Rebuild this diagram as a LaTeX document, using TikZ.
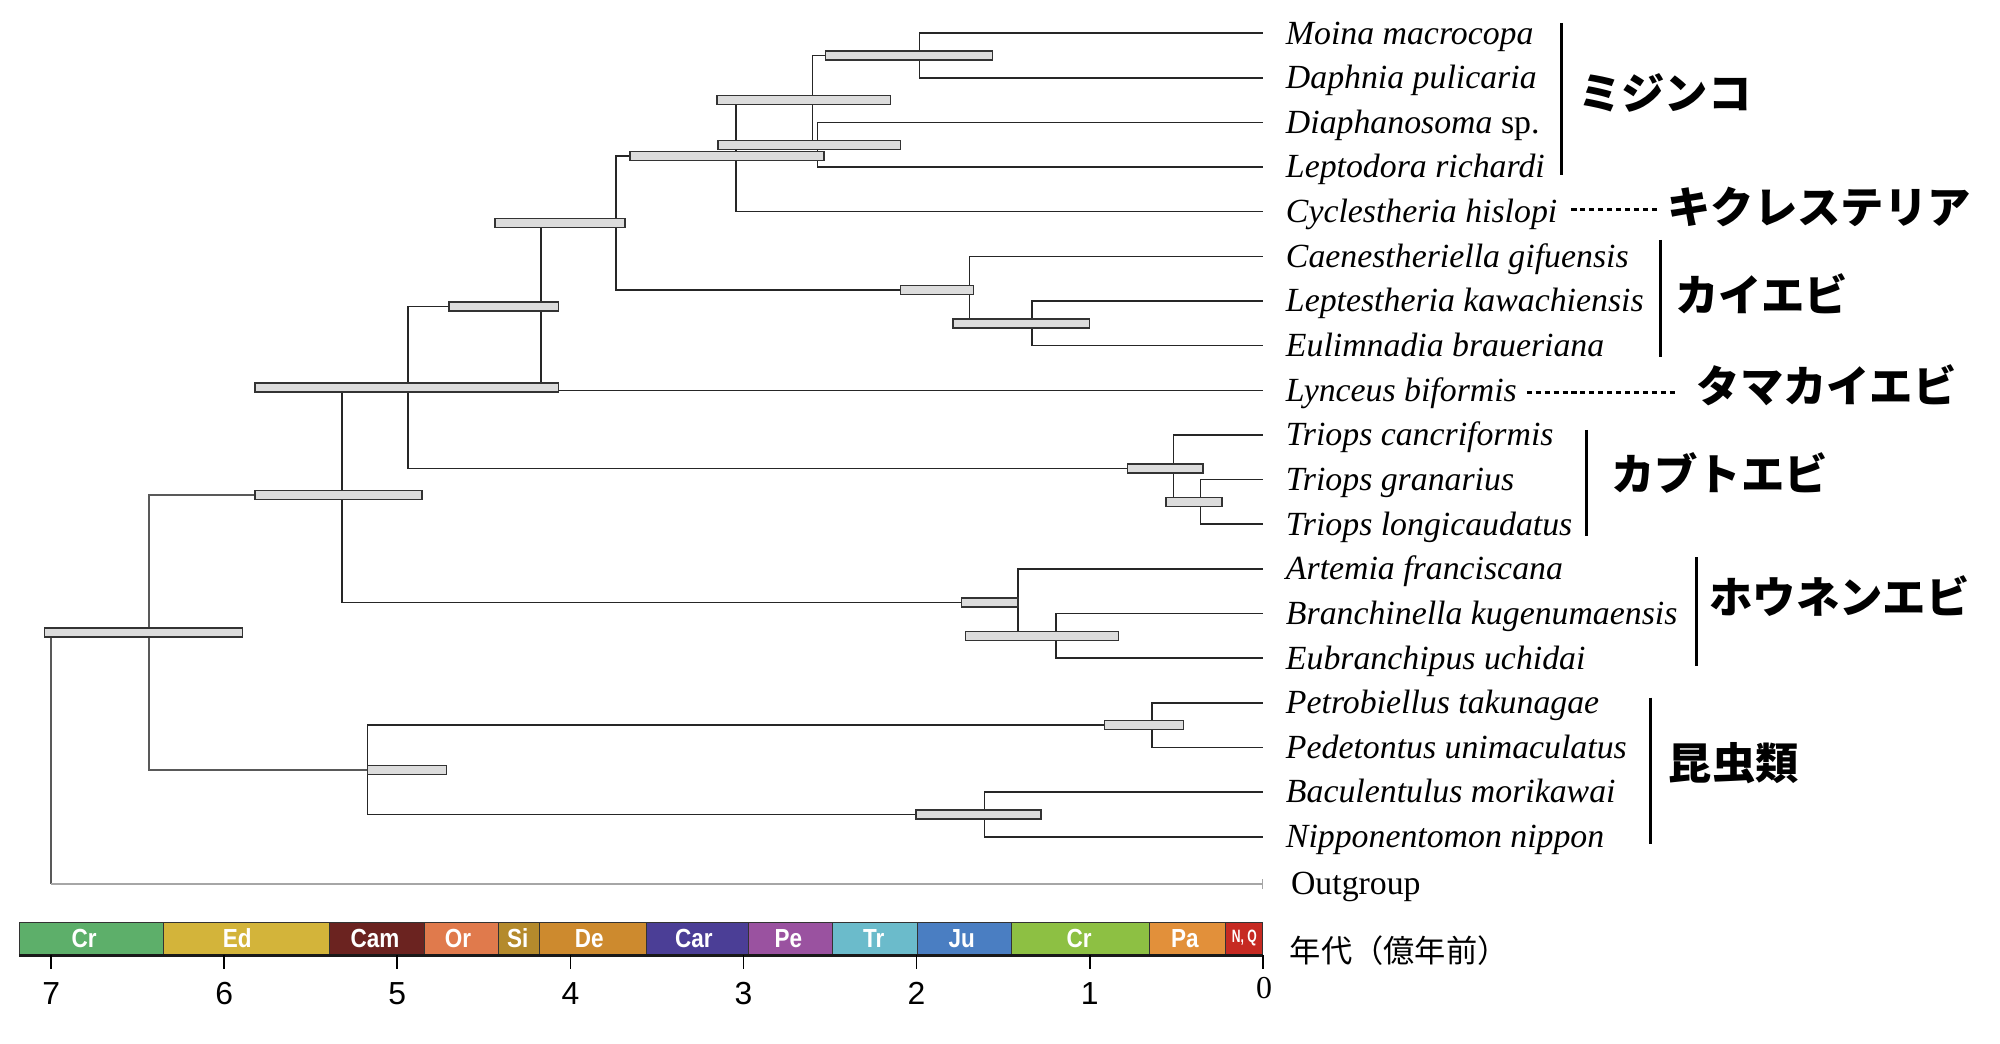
\documentclass[tikz,border=0pt]{standalone}
\usepackage{fontspec}
\setmainfont{Liberation Serif}
\newfontfamily\sansf{Liberation Sans}
\newfontfamily\jp{Noto Sans CJK JP}
\definecolor{cCry}{HTML}{5DAF6A}
\definecolor{cEd}{HTML}{D3B43A}
\definecolor{cCam}{HTML}{6B2320}
\definecolor{cOr}{HTML}{E07A4C}
\definecolor{cSi}{HTML}{B48A2C}
\definecolor{cDe}{HTML}{CD8A2E}
\definecolor{cCar}{HTML}{4B3E96}
\definecolor{cPe}{HTML}{9A52A0}
\definecolor{cTr}{HTML}{6BBBCB}
\definecolor{cJu}{HTML}{4A7EC2}
\definecolor{cCre}{HTML}{8DC043}
\definecolor{cPa}{HTML}{E2903A}
\definecolor{cNQ}{HTML}{C62A22}
\definecolor{hpdfill}{HTML}{DCDCDC}
\newcommand\hpdbar[3]{\draw[hpd] (#2,#1-3.5) rectangle (#3,#1+3.5);}
\begin{document}
\begin{tikzpicture}[x=1pt,y=-1pt,
  branch/.style={draw=black!85,line width=1.2pt},
  rootline/.style={draw=black!65,line width=1.2pt},
  outline/.style={draw=black!35,line width=1.1pt},
  hpd/.style={draw=black!80,fill=hpdfill,line width=1.1pt},
  sp/.style={anchor=base west,inner sep=0pt,font=\fontsize{26.5}{30}\selectfont\itshape},
  grp/.style={anchor=west,inner sep=0pt,font=\jp\bfseries\fontsize{34}{36}\selectfont},
  grpline/.style={draw=black,line width=2.6pt},
  dotline/.style={draw=black,line width=2.4pt,dash pattern=on 4pt off 3pt},
  period/.style={draw=black!80,line width=0.8pt},
  plab/.style={text=white,inner sep=0pt,font=\sansf\bfseries\fontsize{20.5}{20.5}\selectfont},
  tick/.style={draw=black,line width=1.4pt},
  ticklab/.style={inner sep=0pt,font=\sansf\fontsize{25}{25}\selectfont}]
\useasboundingbox (0,0) rectangle (1568,818);
\fill[white] (0,0) rectangle (1568,818);

% tips
\coordinate (t1) at (990,26);
\coordinate (t2) at (990,61);
\coordinate (t3) at (990,96);
\coordinate (t4) at (990,131);
\coordinate (t5) at (990,166);
\coordinate (t6) at (990,201);
\coordinate (t7) at (990,236);
\coordinate (t8) at (990,271);
\coordinate (t9) at (990,306);
\coordinate (t10) at (990,341);
\coordinate (t11) at (990,376);
\coordinate (t12) at (990,411);
\coordinate (t13) at (990,446);
\coordinate (t14) at (990,481);
\coordinate (t15) at (990,516);
\coordinate (t16) at (990,551);
\coordinate (t17) at (990,586);
\coordinate (t18) at (990,621);
\coordinate (t19) at (990,656);
\coordinate (out) at (990,693);

% internal nodes
\coordinate (n1) at (721,43.5);
\coordinate (n2) at (641,113.5);
\coordinate (n3) at (637,78.5);
\coordinate (n4) at (577,122.25);
\coordinate (n5) at (809,253.5);
\coordinate (n6) at (760,227.25);
\coordinate (n7) at (483,174.75);
\coordinate (n8) at (424,240.4);
\coordinate (n9) at (941,393.5);
\coordinate (n10) at (920,367.25);
\coordinate (n11) at (320,303.8);
\coordinate (n12) at (828,498.5);
\coordinate (n13) at (798,472.25);
\coordinate (n14) at (268,388);
\coordinate (n15) at (903,568.5);
\coordinate (n16) at (772,638.5);
\coordinate (n17) at (288,603.5);
\coordinate (n18) at (117,495.75);
\coordinate (root) at (40,693);

% branches
\draw[branch] (t1) -| (n1) |- (t2);
\draw[branch] (t3) -| (n2) |- (t4);
\draw[branch] (n1) -| (n3) |- (n2);
\draw[branch] (n3) -| (n4) |- (t5);
\draw[branch] (t7) -| (n5) |- (t8);
\draw[branch] (t6) -| (n6) |- (n5);
\draw[branch] (n4) -| (n7) |- (n6);
\draw[branch] (n7) -| (n8) |- (t9);
\draw[branch] (t11) -| (n9) |- (t12);
\draw[branch] (t10) -| (n10) |- (n9);
\draw[branch] (n8) -| (n11) |- (n10);
\draw[branch] (t14) -| (n12) |- (t15);
\draw[branch] (t13) -| (n13) |- (n12);
\draw[branch] (n11) -| (n14) |- (n13);
\draw[branch] (t16) -| (n15) |- (t17);
\draw[branch] (t18) -| (n16) |- (t19);
\draw[branch] (n15) -| (n17) |- (n16);
\draw[rootline] (n14) -| (n18) |- (n17);
\draw[rootline] (n18) -| (root);
\draw[outline] (root) -- (out);
\draw[outline] ([yshift=-4pt]out) -- ([yshift=4pt]out);

% HPD bars
\hpdbar{43.5}{647}{778}
\hpdbar{113.5}{563}{706}
\hpdbar{78.5}{562}{698}
\hpdbar{122.25}{494}{646}
\hpdbar{253.5}{747}{854}
\hpdbar{227.25}{706}{763}
\hpdbar{174.75}{388}{490}
\hpdbar{240.4}{352}{438}
\hpdbar{393.5}{914}{958}
\hpdbar{367.25}{884}{943}
\hpdbar{303.8}{200}{438}
\hpdbar{498.5}{757}{877}
\hpdbar{472.25}{754}{798}
\hpdbar{388}{200}{331}
\hpdbar{568.5}{866}{928}
\hpdbar{638.5}{718}{816}
\hpdbar{603.5}{288}{350}
\hpdbar{495.75}{35}{190}

% species labels
\node[sp] (L1) at (1008,34.5) {Moina macrocopa};
\node[sp] (L2) at (1008,69.5) {Daphnia pulicaria};
\node[sp] (L3) at (1008,104.5) {Diaphanosoma \upshape sp.};
\node[sp] (L4) at (1008,139.5) {Leptodora richardi};
\node[sp] (L5) at (1008,174.5) {Cyclestheria hislopi};
\node[sp] (L6) at (1008,209.5) {Caenestheriella gifuensis};
\node[sp] (L7) at (1008,244.5) {Leptestheria kawachiensis};
\node[sp] (L8) at (1008,279.5) {Eulimnadia braueriana};
\node[sp] (L9) at (1008,314.5) {Lynceus biformis};
\node[sp] (L10) at (1008,349.5) {Triops cancriformis};
\node[sp] (L11) at (1008,384.5) {Triops granarius};
\node[sp] (L12) at (1008,419.5) {Triops longicaudatus};
\node[sp] (L13) at (1008,454.5) {Artemia franciscana};
\node[sp] (L14) at (1008,489.5) {Branchinella kugenumaensis};
\node[sp] (L15) at (1008,524.5) {Eubranchipus uchidai};
\node[sp] (L16) at (1008,559.5) {Petrobiellus takunagae};
\node[sp] (L17) at (1008,594.5) {Pedetontus unimaculatus};
\node[sp] (L18) at (1008,629.5) {Baculentulus morikawai};
\node[sp] (L19) at (1008,664.5) {Nipponentomon nippon};
\node[sp,font=\fontsize{26.5}{30}\selectfont\upshape] (Lout) at (1012,701.5) {Outgroup};

% group brackets and labels
\coordinate (g1a) at (1224,18);  \coordinate (g1b) at (1224,137);
\draw[grpline] (g1a) -- (g1b);
\node[grp] (G1) at (1237,73) {ミジンコ};
\coordinate (d1a) at (1232,164); \coordinate (d1b) at (1300,164);
\draw[dotline] (d1a) -- (d1b);
\node[grp] (G2) at (1307,162) {キクレステリア};
\coordinate (g3a) at (1302,188); \coordinate (g3b) at (1302,280);
\draw[grpline] (g3a) -- (g3b);
\node[grp] (G3) at (1313,230) {カイエビ};
\coordinate (d4a) at (1197,308); \coordinate (d4b) at (1315,308);
\draw[dotline] (d4a) -- (d4b);
\node[grp] (G4) at (1330,302) {タマカイエビ};
\coordinate (g5a) at (1244,337); \coordinate (g5b) at (1244,420);
\draw[grpline] (g5a) -- (g5b);
\node[grp] (G5) at (1263,371) {カブトエビ};
\coordinate (g6a) at (1330,437); \coordinate (g6b) at (1330,522);
\draw[grpline] (g6a) -- (g6b);
\node[grp] (G6) at (1340,467) {ホウネンエビ};
\coordinate (g7a) at (1294,547); \coordinate (g7b) at (1294,662);
\draw[grpline] (g7a) -- (g7b);
\node[grp] (G7) at (1308,598) {昆虫類};

% geologic time bar
\foreach \xa/\xb/\c/\lab/\lx in {15/128/cCry/Cr/66,128/258/cEd/Ed/186,258/333/cCam/Cam/294,333/391/cOr/Or/359,391/423/cSi/Si/406,423/507/cDe/De/462,507/587/cCar/Car/544,587/653/cPe/Pe/618,653/719/cTr/Tr/685,719/793/cJu/Ju/754,793/901/cCre/Cr/846,901/961/cPa/Pa/929}{
  \draw[period,fill=\c] (\xa,723) rectangle (\xb,748);
  \node[plab] (p\xa) at (\lx,735.5) {\scalebox{0.86}[1]{\lab}};
}
\draw[period,fill=cNQ] (961,723) rectangle (990,748);
\node[plab,font=\sansf\bfseries\fontsize{14}{14}\selectfont] (pNQ) at (975.5,735.5) {\scalebox{0.68}[1]{N, Q}};
\draw[draw=black!90,line width=2.4pt] (15,749) -- (990,749);
\foreach \k/\xx in {0/990,1/854.3,2/718.6,3/582.9,4/447.2,5/311.5,6/175.8,7/40.1}{
  \draw[tick] (\xx,749) -- (\xx,760);
}
\foreach \k/\xx in {1/854.3,2/718.6,3/582.9,4/447.2,5/311.5,6/175.8,7/40.1}{
  \node[ticklab] (tk\k) at (\xx,779) {\k};
}
\node[ticklab,font=\fontsize{25}{25}\selectfont] (tk0) at (991,775) {0};
\node[anchor=west,inner sep=0pt,font=\jp\fontsize{24.5}{26}\selectfont] (axlab) at (1011,745) {年代（億年前）};
\end{tikzpicture}
\end{document}
